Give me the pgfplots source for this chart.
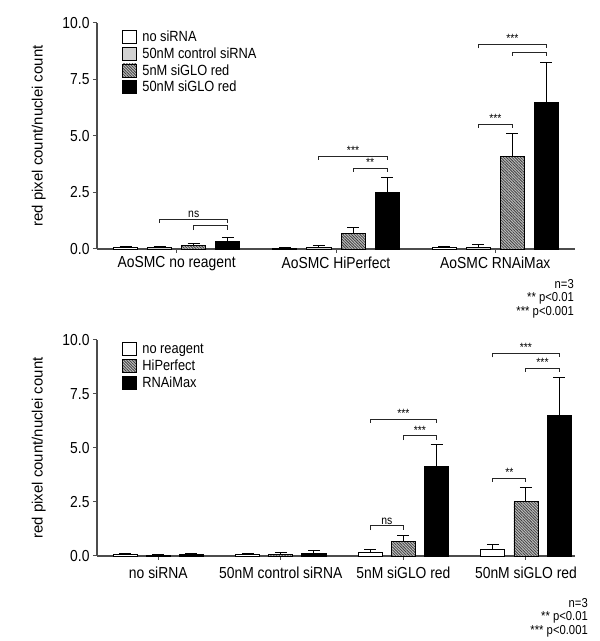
\documentclass[border=0pt]{standalone}
\usepackage{fontspec}
\setmainfont{Liberation Sans}[FakeStretch=0.87]
\newfontfamily\plainfont{Liberation Sans}
\usepackage{pgfplots}
\pgfplotsset{compat=1.18}
\usetikzlibrary{patterns.meta}
\newcommand\tickfont{\fontsize{16}{18}\selectfont}
\newcommand\legfont{\fontsize{14.8}{16}\selectfont}
\newcommand\notefont{\fontsize{13}{13.5}\selectfont}
\newcommand\starfont{\fontsize{12}{12}\selectfont}
\pgfplotsset{
  common/.style={
    scale only axis, ymin=0, ymax=10, clip=false,
    axis x line=bottom, axis y line=left,
    axis line style={-, black!70, line width=1.2bp},
    tick align=outside, major tick length=4bp,
    tick style={black!70, line width=1bp},
    ytick={0,2.5,5,7.5,10}, yticklabels={0.0,2.5,5.0,7.5,10.0},
    ticklabel style={font=\tickfont},
    ylabel={red pixel count/nuclei count},
    ylabel style={font=\plainfont\fontsize{15}{17}\selectfont, at={(axis description cs:-0.122,0.5)}, anchor=center},
    ybar, bar shift=0pt,
    legend cell align=left,
    legend style={draw=none, fill=none, font=\legfont, anchor=north west, inner sep=0pt, nodes={inner sep=1.5bp}, row sep=1.5bp},
    legend image code/.code={\draw[##1, draw=black, line width=0.8bp] (0bp,-6.5bp) rectangle (14bp,6.5bp); \path (18bp,0bp);},
    error bars/y dir=plus, error bars/y explicit,
    error bars/error bar style={line width=1bp, black},
    error bars/error mark options={rotate=90, mark size=6bp, line width=1bp, black},
  },
  white bar/.style={draw=black, line width=0.9bp, fill=white},
  light bar/.style={draw=black, line width=0.9bp, fill=black!15, postaction={pattern={Dots[distance=2bp,radius=0.45bp]}, pattern color=black!45}},
  hatch bar/.style={draw=black, line width=0.9bp, fill=black!25, postaction={pattern={Lines[angle=-45,distance=2bp,line width=0.8bp]}, pattern color=black!75}},
  black bar/.style={draw=black, line width=0.9bp, fill=black},
}
\newcommand\bracket[5]{% x1,x2,ytop,ylow,label
  \draw[black!85, line width=1bp] (axis cs:#1,#4) -- (axis cs:#1,#3) -- (axis cs:#2,#3) -- (axis cs:#2,#4);
  \node[font=\starfont, anchor=south, inner sep=1.5bp] at (axis cs:{(#1+#2)/2},#3) {#5};
}
\begin{document}
\begin{tikzpicture}
\path[use as bounding box] (0,0) rectangle (600bp,641bp);
% ---------------- top chart ----------------
\begin{axis}[common,
  at={(97bp,392bp)}, anchor=south west, width=478bp, height=226bp,
  xmin=-0.5, xmax=2.5, bar width=0.151,
  xtick={0,1,2}, xticklabels={AoSMC no reagent, AoSMC HiPerfect, AoSMC RNAiMax},
  legend style={at={(axis description cs:0.052,0.972)}},
]
\addplot[white bar] coordinates {(-0.321,0.06) +- (0,0.05) (0.679,0.03) +- (0,0.02) (1.679,0.05) +- (0,0.06)};
\addplot[light bar] coordinates {(-0.107,0.06) +- (0,0.05) (0.893,0.06) +- (0,0.10) (1.893,0.07) +- (0,0.14)};
\addplot[hatch bar] coordinates {(0.107,0.14) +- (0,0.12) (1.107,0.68) +- (0,0.26) (2.107,4.10) +- (0,1.03)};
\addplot[black bar] coordinates {(0.321,0.33) +- (0,0.18) (1.321,2.50) +- (0,0.68) (2.321,6.47) +- (0,1.80)};
\legend{no siRNA, 50nM control siRNA, 5nM siGLO red, 50nM siGLO red}
\bracket{-0.107}{0.321}{1.31}{1.14}{ns}
\bracket{0.107}{0.321}{1.02}{0.84}{}
\bracket{0.893}{1.321}{4.11}{3.94}{***}
\bracket{1.107}{1.321}{3.57}{3.41}{**}
\bracket{1.893}{2.321}{9.06}{8.88}{***}
\bracket{2.107}{2.321}{8.70}{8.54}{}
\bracket{1.893}{2.107}{5.53}{5.37}{***}
\end{axis}
\node[font=\notefont, align=right, anchor=north east, inner sep=0pt] at (574bp,362bp) {n=3\\** p<0.01\\*** p<0.001};
% ---------------- bottom chart ----------------
\begin{axis}[common,
  at={(97bp,85bp)}, anchor=south west, width=478bp, height=216bp,
  xmin=-0.5, xmax=3.4, bar width=0.196,
  xtick={0,1,2,3}, xticklabels={no siRNA, 50nM control siRNA, 5nM siGLO red, 50nM siGLO red},
  xticklabel style={yshift=-3bp},
  legend style={at={(axis description cs:0.052,0.99)}, row sep=2bp},
]
\addplot[white bar] coordinates {(-0.27,0.07) +- (0,0.03) (0.73,0.07) +- (0,0.03) (1.73,0.15) +- (0,0.14) (2.73,0.32) +- (0,0.20)};
\addplot[hatch bar] coordinates {(0,0.04) +- (0,0.03) (1,0.08) +- (0,0.09) (2,0.69) +- (0,0.27) (3,2.51) +- (0,0.68)};
\addplot[black bar] coordinates {(0.27,0.07) +- (0,0.05) (1.27,0.10) +- (0,0.15) (2.27,4.13) +- (0,1.03) (3.27,6.50) +- (0,1.78)};
\legend{no reagent, HiPerfect, RNAiMax}
\bracket{1.73}{2.0}{1.39}{1.20}{ns}
\bracket{1.73}{2.27}{6.34}{6.18}{***}
\bracket{2.0}{2.27}{5.56}{5.37}{***}
\bracket{2.73}{3.0}{3.61}{3.43}{**}
\bracket{2.73}{3.27}{9.37}{9.20}{***}
\bracket{3.0}{3.27}{8.69}{8.52}{***}
\end{axis}
\node[font=\notefont, align=right, anchor=north east, inner sep=0pt] at (588bp,43bp) {n=3\\** p<0.01\\*** p<0.001};
\end{tikzpicture}
\end{document}
